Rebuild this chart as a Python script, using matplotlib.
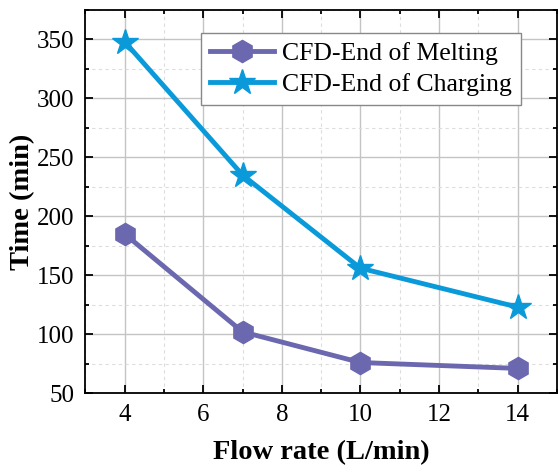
import matplotlib.pyplot as plt
from matplotlib.ticker import MultipleLocator

flow_rate = [4, 7, 10, 14]
end_of_melting = [185, 102, 76, 71]
end_of_charging = [348, 235, 156, 123]

plt.rcParams['font.family'] = ['Liberation Serif', 'DejaVu Serif']
plt.rcParams['mathtext.fontset'] = 'stix'

fig = plt.figure(figsize=(5.58, 4.72), dpi=100)
ax = fig.add_axes([0.153, 0.167, 0.845, 0.812])

ax.plot(flow_rate, end_of_melting, '-', marker='h', color='#6B68B0',
        lw=3.5, markersize=16, label='CFD-End of Melting', zorder=3)
ax.plot(flow_rate, end_of_charging, '-', marker='*', color='#0A9ADA',
        lw=3.5, markersize=19, label='CFD-End of Charging', zorder=3)

ax.set_xlim(3, 15)
ax.set_ylim(50, 375)
ax.xaxis.set_major_locator(MultipleLocator(2))
ax.xaxis.set_minor_locator(MultipleLocator(1))
ax.yaxis.set_major_locator(MultipleLocator(50))
ax.yaxis.set_minor_locator(MultipleLocator(25))

ax.grid(which='major', color='#c4c4c4', lw=1.0, ls='-')
ax.grid(which='minor', color='#dddddd', lw=0.8, ls=(0, (3, 3)))
ax.set_axisbelow(True)

ax.tick_params(which='both', direction='in', top=True, right=True,
               labelsize=18, width=1.3, color='black')
ax.tick_params(which='major', length=6, pad=8)
ax.tick_params(which='minor', length=3)
for s in ax.spines.values():
    s.set_linewidth(1.3)

ax.set_xlabel('Flow rate (L/min)', fontsize=20.5, fontweight='bold', labelpad=10)
ax.set_ylabel('Time (min)', fontsize=20.5, fontweight='bold', labelpad=1)

ax.legend(loc='upper right', bbox_to_anchor=(0.924, 0.94), fontsize=18.5,
          frameon=True, fancybox=False, edgecolor='#888888', framealpha=1,
          handlelength=2.5, borderpad=0.35, labelspacing=0.3,
          handletextpad=0.3, borderaxespad=0)

fig.savefig('out.png', dpi=100)
